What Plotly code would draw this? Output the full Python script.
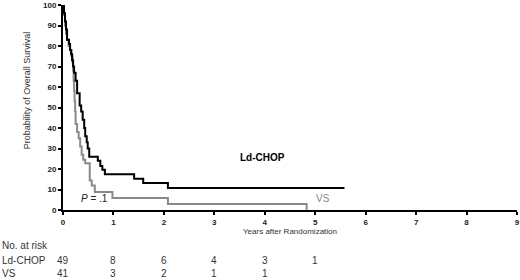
import plotly.graph_objects as go

# Kaplan-Meier step data (years, % surviving)
ld_t = [0, 0.02, 0.04, 0.06, 0.08, 0.12, 0.14, 0.16, 0.18, 0.2, 0.22, 0.25, 0.28, 0.33, 0.36, 0.39,
        0.42, 0.44, 0.47, 0.49, 0.52, 0.69, 0.74, 0.78, 0.83, 1.41, 1.59, 2.08, 5.58]
ld_s = [100, 96, 92, 88, 83, 81, 78, 76, 73, 70, 67, 63, 57, 51, 48, 44,
        40, 36, 33, 30, 26, 24, 21.5, 19.6, 17.4, 15.3, 13.2, 10.7, 10.7]

vs_t = [0, 0.02, 0.04, 0.06, 0.08, 0.11, 0.14, 0.17, 0.19, 0.2, 0.21, 0.22, 0.23, 0.24, 0.25,
        0.28, 0.31, 0.34, 0.37, 0.4, 0.44, 0.53, 0.57, 0.63, 0.98, 2.08, 4.83]
vs_s = [100, 95, 90, 86, 83, 80, 78, 75, 72, 68, 63, 58, 53, 48, 42,
        38, 35, 31, 27, 24.5, 22.8, 14.4, 12, 8.8, 5.9, 2.9, 0]

x_ticks = list(range(0, 10))
y_ticks = list(range(0, 101, 10))

risk_years = [0, 1, 2, 3, 4, 5]
risk_ld = [49, 8, 6, 4, 3, 1]
risk_vs = [41, 3, 2, 1, 1]

FONT = "Liberation Sans, Arial, sans-serif"

fig = go.Figure()
fig.add_trace(go.Scatter(x=vs_t, y=vs_s, mode="lines", line=dict(color="#8a8a8a", width=2, shape="hv"),
                         showlegend=False, hoverinfo="skip"))
fig.add_trace(go.Scatter(x=ld_t, y=ld_s, mode="lines", line=dict(color="#000000", width=2, shape="hv"),
                         showlegend=False, hoverinfo="skip"))

fig.update_layout(
    width=520, height=280,
    margin=dict(l=63, r=3, t=5, b=70),
    paper_bgcolor="white", plot_bgcolor="white",
    font=dict(family=FONT, color="#222"),
    xaxis=dict(range=[0, 9], tickvals=x_ticks, ticktext=["<b>%d</b>" % v for v in x_ticks],
               showline=True, linecolor="black", linewidth=2, ticks="outside", ticklen=3,
               tickcolor="black", tickwidth=1.5, showgrid=False, zeroline=False,
               tickfont=dict(size=8, family=FONT), automargin=False),
    yaxis=dict(range=[0, 100], tickvals=y_ticks, ticktext=["<b>%d</b>" % v for v in y_ticks],
               showline=True, linecolor="black", linewidth=2, ticks="outside", ticklen=3,
               tickcolor="black", tickwidth=1.5, showgrid=False, zeroline=False,
               tickfont=dict(size=8, family=FONT), automargin=False),
)

ann = []
ann.append(dict(text="Probability of Overall Survival", xref="paper", yref="paper", x=-0.079, xanchor="center",
                y=0.585, yanchor="middle", textangle=-90, showarrow=False, font=dict(size=9, color="#333")))
ann.append(dict(text="Years after Randomization", xref="paper", yref="paper", x=0.5, y=-0.105,
                xanchor="center", yanchor="middle", showarrow=False, font=dict(size=8, color="#333")))
ann.append(dict(text="<b>Ld-CHOP</b>", xref="x", yref="y", x=3.95, y=25.5, showarrow=False,
                font=dict(size=10, color="#000")))
ann.append(dict(text="VS", xref="x", yref="y", x=5.16, y=5.6, showarrow=False,
                font=dict(size=10, color="#888")))
ann.append(dict(text="<i>P</i> = .1", xref="x", yref="y", x=0.62, y=5.8, showarrow=False,
                font=dict(size=10, color="#222")))
rows_y = [-0.171, -0.244, -0.312]
ann.append(dict(text="No. at risk", xref="paper", yref="paper", x=-0.139, xanchor="left", y=rows_y[0],
                yanchor="middle", showarrow=False, font=dict(size=10, color="#333")))
ann.append(dict(text="Ld-CHOP", xref="paper", yref="paper", x=-0.139, xanchor="left", y=rows_y[1],
                yanchor="middle", showarrow=False, font=dict(size=10, color="#333")))
ann.append(dict(text="VS", xref="paper", yref="paper", x=-0.139, xanchor="left", y=rows_y[2],
                yanchor="middle", showarrow=False, font=dict(size=10, color="#333")))
for yr, v in zip(risk_years, risk_ld):
    ann.append(dict(text=str(v), xref="x", yref="paper", x=yr, y=rows_y[1], yanchor="middle",
                    showarrow=False, font=dict(size=10, color="#333")))
for yr, v in zip(risk_years, risk_vs):
    ann.append(dict(text=str(v), xref="x", yref="paper", x=yr, y=rows_y[2], yanchor="middle",
                    showarrow=False, font=dict(size=10, color="#333")))
fig.update_layout(annotations=ann)

fig.write_html("out.html", config={"displayModeBar": False},
               post_script="document.body.style.margin='0px';document.body.style.overflow='hidden';")
